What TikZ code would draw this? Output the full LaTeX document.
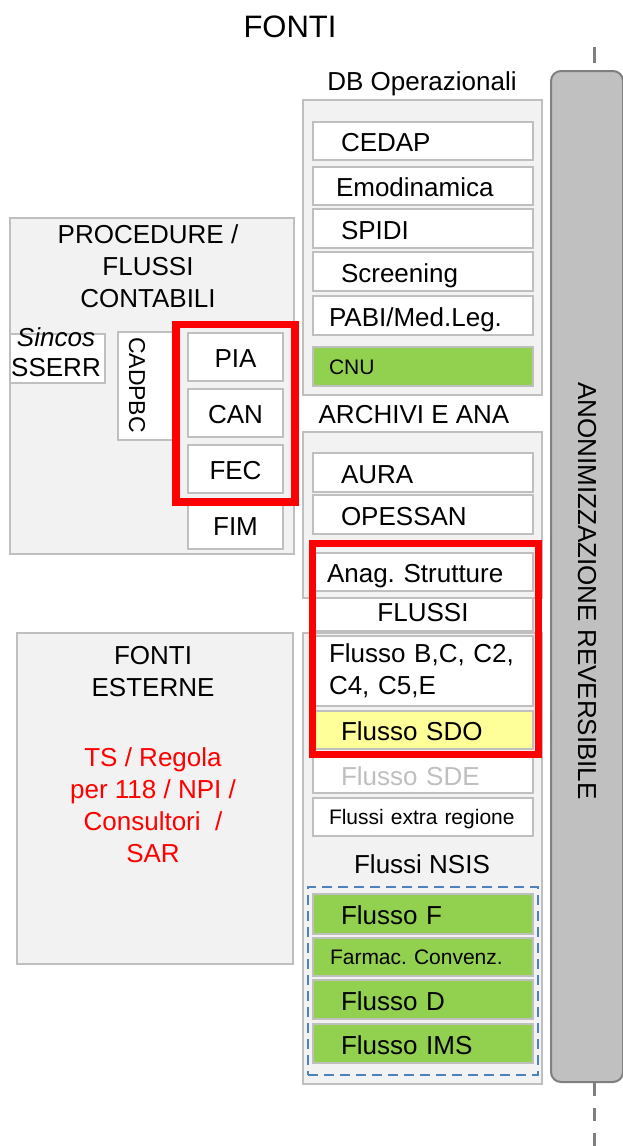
\documentclass[tikz,border=0pt]{standalone}
\usepackage{fontspec}
\setmainfont{Liberation Sans}
\frenchspacing
\definecolor{lgray}{HTML}{BFBFBF}
\definecolor{bggray}{HTML}{F2F2F2}
\definecolor{agray}{HTML}{C0C0C0}
\definecolor{dgray}{HTML}{7F7F7F}
\definecolor{gr}{HTML}{92D050}
\definecolor{yl}{HTML}{FFFF99}
\definecolor{rd}{HTML}{FF0000}
\definecolor{bl}{HTML}{4F81BD}
\tikzset{
  fbig/.style={font=\fontsize{26}{32}\selectfont},
  fsmall/.style={font=\fontsize{21}{25}\selectfont},
  obox/.style={draw=lgray, fill=bggray, line width=2pt, anchor=north west, inner sep=0pt},
  iboxbase/.style={draw=lgray, fill=white, line width=2pt, anchor=north west, inner sep=0pt,
    minimum width=220pt, text width=220pt, align=left, fbig},
  ibox/.style={iboxbase, text height=21pt, text depth=0pt},
  sbox/.style={iboxbase, fsmall, text height=15pt, text depth=0pt},
  cbox/.style={draw=lgray, fill=white, line width=2pt, anchor=north west, inner sep=0pt,
    minimum width=95pt, minimum height=48pt, fbig, text height=21pt, text depth=0pt},
  redbox/.style={draw=rd, anchor=north west, inner sep=0pt},
  dline/.style={draw=dgray, line width=3pt},
}
\begin{document}
\begin{tikzpicture}[x=1pt,y=-1pt]
\useasboundingbox (0,0) rectangle (623,1146);

% title
\node[font=\fontsize{31}{36}\selectfont, anchor=base] (fonti) at (290,37) {FONTI};

% anonimizzazione
\node[draw=dgray, fill=agray, rounded corners=10pt, line width=2pt, anchor=north west,
  minimum width=72pt, minimum height=1011pt, inner sep=0pt] (anon) at (550,70) {};
\node[fbig, rotate=-90] (anont) at (587,591) {ANONIMIZZAZIONE REVERSIBILE};
\coordinate (dtop) at (594,47);
\coordinate (dbot) at (594,1146);
\draw[dline, dash pattern=on 16pt off 13pt] (dtop) -- (anon.north -| dtop);
\draw[dline, dash pattern=on 13pt off 12pt] (anon.south -| dbot) -- (dbot);

% DB Operazionali
\node[fbig, anchor=base] (dbt) at (422,90) {DB Operazionali};
\node[obox, minimum width=239pt, minimum height=295pt] (dbo) at (302,99) {};
\node[ibox, minimum height=38pt] (cedap) at (312,121) {\hspace*{28pt}CEDAP};
\node[ibox, minimum height=38pt] (emo) at (312,166) {\hspace*{23pt}Emodinamica};
\node[ibox, minimum height=39pt] (spidi) at (312,208) {\hspace*{28pt}SPIDI};
\node[ibox, minimum height=39pt] (scr) at (312,251) {\hspace*{28pt}Screening};
\node[ibox, minimum height=39pt] (pabi) at (312,295) {\hspace*{16pt}PABI/Med.Leg.};
\node[sbox, fill=gr, minimum height=39pt] (cnu) at (312,346) {\hspace*{16pt}CNU};

% Archivi
\node[fbig, anchor=base] (arct) at (414,423) {ARCHIVI E ANA};
\node[obox, minimum width=239pt, minimum height=166pt] (arc) at (302,431) {};
\node[ibox, minimum height=39pt] (aura) at (312,452) {\hspace*{28pt}AURA};
\node[ibox, minimum height=39pt] (opes) at (312,494) {\hspace*{28pt}OPESSAN};

% Flussi
\node[obox, minimum width=239pt, minimum height=451pt] (flo) at (302,632) {};
\node[ibox, minimum height=38pt] (anag) at (312,552) {\hspace*{14pt}Anag. Strutture};
\node[ibox, align=center, text height=13pt, minimum height=33pt] (flt) at (312,597) {FLUSSI};
\node[iboxbase, minimum height=70pt] (fbc) at (312,635) {\hspace*{16pt}Flusso B,C, C2,\\\hspace*{16pt}C4, C5,E};
\node[ibox, fill=yl, minimum height=38pt] (sdo) at (312,710) {\hspace*{28pt}Flusso SDO};
\node[ibox, text=lgray, minimum height=37pt] (sde) at (312,755) {\hspace*{28pt}Flusso SDE};
\node[sbox, minimum height=38pt] (fer) at (312,797) {\hspace*{16pt}Flussi extra regione};
\node[fbig, anchor=base] (nsist) at (422,873) {Flussi NSIS};
\node[draw=bl, dash pattern=on 10pt off 6pt, line width=2pt, anchor=north west,
  minimum width=230pt, minimum height=188pt, inner sep=0pt] (nsis) at (307,886) {};
\node[ibox, fill=gr, minimum height=40pt] (ff) at (312,893) {\hspace*{28pt}Flusso F};
\node[sbox, fill=gr, minimum height=38pt] (farm) at (312,937) {\hspace*{17pt}Farmac. Convenz.};
\node[ibox, fill=gr, minimum height=39pt] (fd) at (312,979) {\hspace*{28pt}Flusso D};
\node[ibox, fill=gr, minimum height=39pt] (fims) at (312,1023) {\hspace*{28pt}Flusso IMS};

% Procedure
\node[obox, minimum width=284pt, minimum height=336pt] (proc) at (9,217) {};
\node[fbig, align=center] (proct) at (148,266) {PROCEDURE /\\FLUSSI\\CONTABILI};
\node[draw=lgray, fill=white, line width=2pt, anchor=north west, inner sep=0pt,
  minimum width=95pt, minimum height=49pt] (sinc) at (9,333) {};
\node[font=\fontsize{26}{30}\selectfont, align=center] (sinct) at (56,352.5) {\textit{Sincos}\\SSERR};
\node[draw=lgray, fill=white, line width=2pt, anchor=north west, inner sep=0pt,
  minimum width=60pt, minimum height=108pt] (cad) at (117,331) {};
\node[font=\fontsize{23}{28}\selectfont, rotate=-90] (cadt) at (137,385) {CADPBC};
\node[cbox] (pia) at (187,332) {PIA};
\node[cbox] (can) at (187,388) {CAN};
\node[cbox] (fec) at (187,444) {FEC};
\node[cbox] (fim) at (187,500) {FIM};

% Fonti esterne
\node[obox, minimum width=276pt, minimum height=331pt] (fe) at (16,632) {};
\node[fbig, align=center] (fet) at (153,671.5) {FONTI\\ESTERNE};
\node[fbig, align=center, text=rd] (fer2) at (153,805.5) {TS / Regola\\per 118 / NPI /\\Consultori \ /\\SAR};

% red highlight boxes
\node[redbox, line width=7.5pt, minimum width=119pt, minimum height=177.5pt] (red1) at (172,320.5) {};
\node[redbox, line width=7pt, minimum width=226pt, minimum height=211pt] (red2) at (308.5,539.5) {};
\end{tikzpicture}
\end{document}
